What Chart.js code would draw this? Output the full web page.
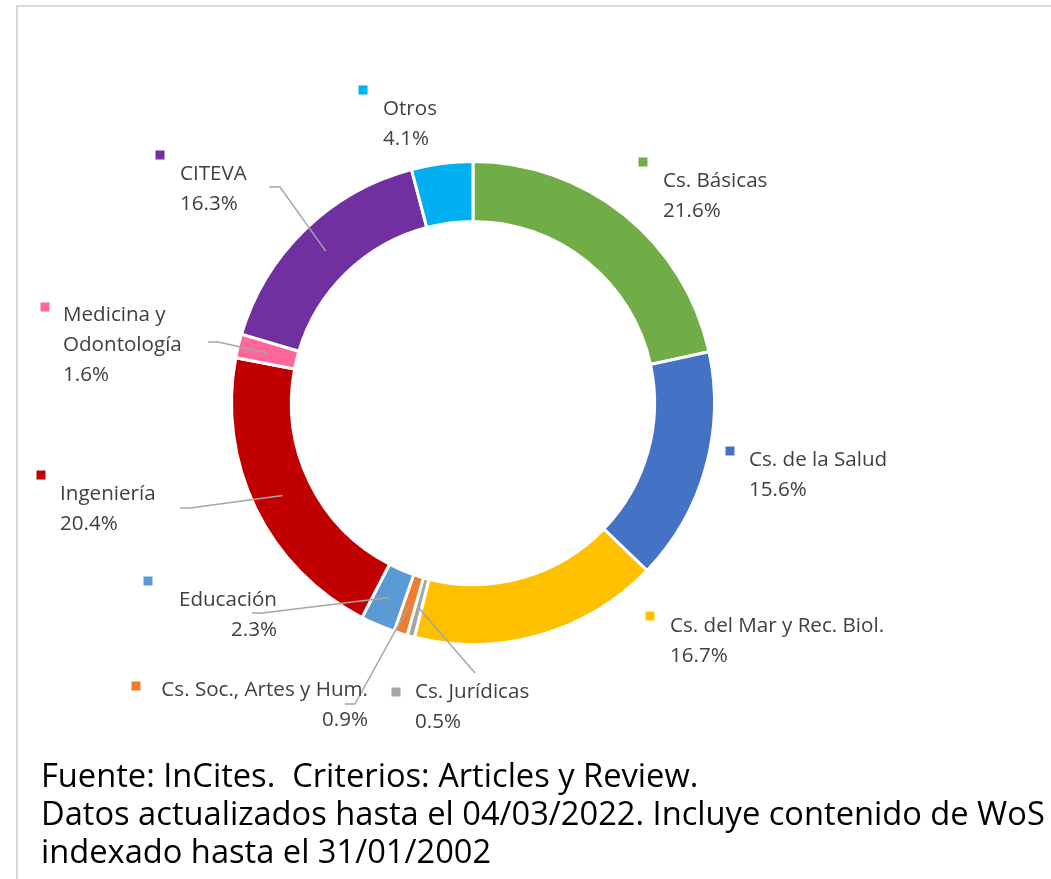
<!DOCTYPE html>
<html>
<head>
<meta charset="utf-8">
<script src="https://cdn.jsdelivr.net/npm/chart.js@4/dist/chart.umd.min.js"></script>
<style>
  html, body { margin: 0; padding: 0; background: #fff; }
  #wrap { position: relative; width: 1051px; height: 879px; overflow: hidden; }
  #frameTop { position: absolute; left: 16px; top: 5px; width: 1040px; height: 0; border-top: 2px solid #d9d9d9; }
  #frameLeft { position: absolute; left: 16px; top: 5px; width: 0; height: 880px; border-left: 2px solid #d9d9d9; }
  canvas { position: absolute; left: 0; top: 0; }
  #footer { position: absolute; left: 41px; top: 756px; font-family: "Open Sans", sans-serif; color: #000; white-space: nowrap; }
  #footer div { line-height: 38px; height: 38px; }
</style>
</head>
<body>
<div id="wrap">
  <div id="frameTop"></div>
  <div id="frameLeft"></div>
  <canvas id="c" width="1051" height="879"></canvas>
  <div id="footer">
    <div>Fuente: InCites.&nbsp; Criterios: Articles y Review.</div>
    <div id="fl2">Datos actualizados hasta el 04/03/2022. Incluye contenido de WoS</div>
    <div>indexado hasta el 31/01/2002</div>
  </div>
</div>
<script>
// ---- data ----
const categories = ["Cs. Básicas", "Cs. de la Salud", "Cs. del Mar y Rec. Biol.", "Cs. Jurídicas",
  "Cs. Soc., Artes y Hum.", "Educación", "Ingeniería", "Medicina y Odontología", "CITEVA", "Otros"];
const values = [21.6, 15.6, 16.7, 0.5, 0.9, 2.3, 20.4, 1.6, 16.3, 4.1];
const valueLabels = ["21.6%", "15.6%", "16.7%", "0.5%", "0.9%", "2.3%", "20.4%", "1.6%", "16.3%", "4.1%"];
const colors = ["#70AD47", "#4472C4", "#FFC000", "#A5A5A5", "#ED7D31", "#5B9BD5", "#C00000", "#FF6699", "#7030A0", "#00B0F0"];

// ---- label layout (placement of data labels, not marks) ----
const labelLayout = [
  { lines: ["Cs. Básicas"], mk: [643, 162], x: 663, y: 181, align: "left", leader: null },
  { lines: ["Cs. de la Salud"], mk: [730, 451], x: 749, y: 460, align: "left", leader: null },
  { lines: ["Cs. del Mar y Rec. Biol."], mk: [650, 616], x: 670, y: 626, align: "left", leader: null },
  { lines: ["Cs. Jurídicas"], mk: [396, 692], x: 415, y: 692, align: "left", leader: [[475, 673]] },
  { lines: ["Cs. Soc., Artes y Hum."], mk: [136, 686], x: 368, y: 690, align: "right", leader: [[345, 704], [355, 704]] },
  { lines: ["Educación"], mk: [148, 581], x: 277, y: 600, align: "right", leader: [[252, 613], [262, 613]] },
  { lines: ["Ingeniería"], mk: [41, 475], x: 60, y: 494, align: "left", leader: [[180, 508], [190, 508]] },
  { lines: ["Medicina y", "Odontología"], mk: [45, 307], x: 63, y: 315, align: "left", leader: [[208, 342], [218, 342]] },
  { lines: ["CITEVA"], mk: [160, 155], x: 180, y: 174, align: "left", leader: [[269, 187], [280, 187]] },
  { lines: ["Otros"], mk: [363, 90], x: 383, y: 109, align: "left", leader: null }
];

const labelPlugin = {
  id: "excelLabels",
  afterDatasetsDraw(chart) {
    const ctx = chart.ctx;
    const meta = chart.getDatasetMeta(0);
    ctx.save();
    // leader lines
    ctx.strokeStyle = "#A6A6A6";
    ctx.lineWidth = 1.5;
    labelLayout.forEach((L, i) => {
      if (!L.leader) return;
      const p = meta.data[i].getCenterPoint();
      ctx.beginPath();
      ctx.moveTo(L.leader[0][0], L.leader[0][1]);
      for (let k = 1; k < L.leader.length; k++) ctx.lineTo(L.leader[k][0], L.leader[k][1]);
      ctx.lineTo(p.x, p.y);
      ctx.stroke();
    });
    // markers + text
    ctx.font = '20.6px "Open Sans", sans-serif';
    ctx.textBaseline = "middle";
    labelLayout.forEach((L, i) => {
      ctx.fillStyle = colors[i];
      ctx.fillRect(L.mk[0] - 4.5, L.mk[1] - 4.5, 9, 9);
      ctx.fillStyle = "#404040";
      ctx.textAlign = L.align;
      const all = L.lines.concat([valueLabels[i]]);
      all.forEach((t, k) => ctx.fillText(t, L.x, L.y + k * 30));
    });
    ctx.restore();
  }
};

new Chart(document.getElementById("c"), {
  type: "doughnut",
  data: {
    labels: categories,
    datasets: [{ data: values, backgroundColor: colors, borderColor: "#ffffff", borderWidth: 3 }]
  },
  options: {
    responsive: false,
    animation: false,
    cutout: "75.2%",
    layout: { padding: { left: 230, top: 160, right: 335, bottom: 233 } },
    plugins: { legend: { display: false }, tooltip: { enabled: false } }
  },
  plugins: [labelPlugin]
});

// fit footer font so that the long line spans the same width as in the source
(function fitFooter() {
  const mc = document.createElement("canvas").getContext("2d");
  mc.font = '100px "Open Sans"';
  const w = mc.measureText(document.getElementById("fl2").textContent).width;
  const size = 100 * 1004 / w;
  document.getElementById("footer").style.fontSize = size.toFixed(2) + "px";
})();
</script>
</body>
</html>
